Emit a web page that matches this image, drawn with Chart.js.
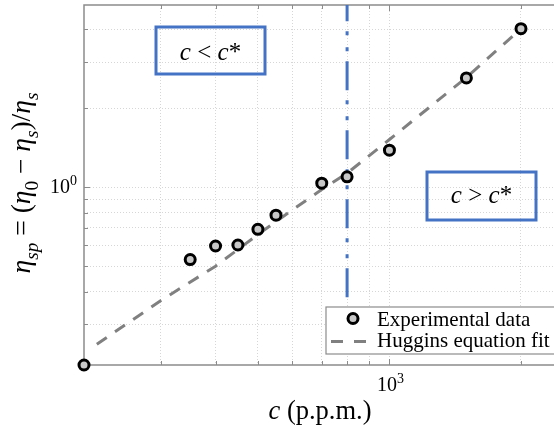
<!DOCTYPE html>
<html>
<head>
<meta charset="utf-8">
<script src="https://cdn.jsdelivr.net/npm/chart.js@4/dist/chart.umd.min.js"></script>
<style>
    html, body { margin: 0; padding: 0; background: #ffffff; }
    #wrap { width: 554px; height: 428px; }
</style>
</head>
<body>
<div id="wrap"><canvas id="chart" width="554" height="428"></canvas></div>
<script>

/* =========================
   DATA
========================= */

const concentration = [200, 350, 400, 450, 500, 550, 700, 800, 1000, 1500, 2000];
const specificViscosity = [0.21, 0.53, 0.597, 0.602, 0.691, 0.782, 1.036, 1.095, 1.384, 2.61, 4.02];

const fitConcentration = [214, 300, 400, 500, 600, 700, 800, 1000, 1500, 2000];
const fitViscosity = [0.252, 0.37, 0.50, 0.66, 0.82, 0.98, 1.13, 1.52, 2.62, 4.02];

const criticalConcentration = [800, 800];
const criticalViscosity = [0.381, 4.95];

const xGridValues = [300, 400, 500, 600, 700, 800, 900, 1000, 2000];
const yGridValues = [0.3, 0.4, 0.5, 0.6, 0.7, 0.8, 0.9, 1, 2, 3, 4];
const xTickLabels = [{ value: 1000, base: '10', exp: '3' }];
const yTickLabels = [{ value: 1, base: '10', exp: '0' }];

const legendLabels = ['Experimental data', 'Huggins equation fit'];

/* =========================
   STYLE
========================= */

const SERIF = '"Liberation Serif", "Times New Roman", serif';
const AXIS_GREY = '#8c8c8c';
const BLUE = '#4472c4';
const FIT_GREY = '#808080';

function toPoints(xs, ys) {
    return xs.map((x, i) => ({ x, y: ys[i] }));
}

// draws a run of text pieces: {t, italic, sub, sup}
function drawRich(ctx, parts, x, y, size, align) {

    const pieces = parts.map(p => {
        const s = (p.sub || p.sup) ? size * 0.7 : size;
        const font = (p.italic ? 'italic ' : '') + s + 'px ' + SERIF;
        ctx.font = font;
        return { ...p, font, w: ctx.measureText(p.t).width };
    });

    const total = pieces.reduce((a, p) => a + p.w, 0);
    let cx = align === 'center' ? x - total / 2 : (align === 'right' ? x - total : x);

    ctx.textAlign = 'left';
    ctx.textBaseline = 'alphabetic';

    pieces.forEach(p => {
        ctx.font = p.font;
        let dy = 0;
        if (p.sub) dy = size * 0.28;
        if (p.sup) dy = -size * 0.42;
        ctx.fillText(p.t, cx, y + dy);
        cx += p.w;
    });
}

function drawBox(ctx, x0, y0, x1, y1, parts, baseline) {
    ctx.save();
    ctx.strokeStyle = BLUE;
    ctx.lineWidth = 3;
    ctx.strokeRect(x0, y0, x1 - x0, y1 - y0);
    ctx.fillStyle = '#000';
    drawRich(ctx, parts, (x0 + x1) / 2, baseline, 25, 'center');
    ctx.restore();
}

/* =========================
   FRAME / TICKS PLUGIN
========================= */

const framePlugin = {

    id: 'frame',

    beforeDatasetsDraw(chart) {

        const { ctx, chartArea: a, scales } = chart;

        ctx.save();
        ctx.strokeStyle = AXIS_GREY;
        ctx.lineWidth = 1.5;

        ctx.beginPath();
        ctx.moveTo(a.right + 2, a.top);
        ctx.lineTo(a.left, a.top);
        ctx.lineTo(a.left, a.bottom);
        ctx.lineTo(a.right + 2, a.bottom);
        ctx.stroke();

        ctx.lineWidth = 1;
        ctx.beginPath();

        xGridValues.forEach(v => {
            const px = Math.round(scales.x.getPixelForValue(v)) + 0.5;
            const len = v === 1000 ? 6 : 4;
            ctx.moveTo(px, a.bottom);
            ctx.lineTo(px, a.bottom - len);
            ctx.moveTo(px, a.top);
            ctx.lineTo(px, a.top + len);
        });

        yGridValues.forEach(v => {
            const py = Math.round(scales.y.getPixelForValue(v)) + 0.5;
            const len = v === 1 ? 6 : 4;
            ctx.moveTo(a.left, py);
            ctx.lineTo(a.left + len, py);
        });

        ctx.stroke();
        ctx.restore();
    },

    afterDatasetsDraw(chart) {

        const { ctx, chartArea: a, scales } = chart;

        ctx.save();
        ctx.fillStyle = '#000';

        /* tick labels */
        xTickLabels.forEach(t => {
            const px = scales.x.getPixelForValue(t.value);
            drawRich(ctx, [{ t: t.base }, { t: t.exp, sup: true }], px + 1, a.bottom + 26, 20, 'center');
        });

        yTickLabels.forEach(t => {
            const py = scales.y.getPixelForValue(t.value);
            drawRich(ctx, [{ t: t.base }, { t: t.exp, sup: true }], a.left - 7, py + 6, 20, 'right');
        });

        /* axis titles */
        drawRich(ctx, [
            { t: 'c', italic: true },
            { t: ' (p.p.m.)' }
        ], 320, 419, 26.5, 'center');

        ctx.save();
        ctx.translate(30, 183);
        ctx.rotate(-Math.PI / 2);
        drawRich(ctx, [
            { t: 'η', italic: true },
            { t: 'sp', italic: true, sub: true },
            { t: ' = (' },
            { t: 'η', italic: true },
            { t: '0', sub: true },
            { t: ' − ' },
            { t: 'η', italic: true },
            { t: 's', italic: true, sub: true },
            { t: ')/' },
            { t: 'η', italic: true },
            { t: 's', italic: true, sub: true }
        ], 0, 0, 27.5, 'center');
        ctx.restore();

        /* regime boxes */
        drawBox(ctx, 156, 27, 265, 74, [
            { t: 'c', italic: true }, { t: ' < ' }, { t: 'c', italic: true }, { t: '*' }
        ], 60);

        drawBox(ctx, 427, 172, 536, 220, [
            { t: 'c', italic: true }, { t: ' > ' }, { t: 'c', italic: true }, { t: '*' }
        ], 203);

        /* legend */
        ctx.fillStyle = '#ffffff';
        ctx.fillRect(326, 307, a.right - 326 + 2, 47);
        ctx.strokeStyle = AXIS_GREY;
        ctx.lineWidth = 1.2;
        ctx.strokeRect(326, 307, a.right - 326 + 4, 47);

        ctx.beginPath();
        ctx.arc(353, 318.5, 5, 0, Math.PI * 2);
        ctx.fillStyle = '#c8c8c8';
        ctx.fill();
        ctx.lineWidth = 3;
        ctx.strokeStyle = '#000';
        ctx.stroke();

        ctx.beginPath();
        ctx.setLineDash([12, 11]);
        ctx.strokeStyle = FIT_GREY;
        ctx.lineWidth = 3;
        ctx.moveTo(331, 341.5);
        ctx.lineTo(367, 341.5);
        ctx.stroke();
        ctx.setLineDash([]);

        ctx.fillStyle = '#000';
        drawRich(ctx, [{ t: legendLabels[0] }], 377, 326, 21, 'left');
        drawRich(ctx, [{ t: legendLabels[1] }], 377, 347, 21, 'left');

        ctx.restore();
    }
};

/* =========================
   CHART
========================= */

const ctx = document.getElementById('chart').getContext('2d');

new Chart(ctx, {

    type: 'scatter',

    data: {
        datasets: [
            {
                label: legendLabels[0],
                data: toPoints(concentration, specificViscosity),
                pointRadius: 5,
                pointHoverRadius: 5,
                borderWidth: 3,
                backgroundColor: '#c8c8c8',
                borderColor: '#000000',
                clip: false,
                order: 0
            },
            {
                label: legendLabels[1],
                data: toPoints(fitConcentration, fitViscosity),
                showLine: true,
                borderColor: FIT_GREY,
                borderWidth: 3,
                borderDash: [12, 10],
                pointRadius: 0,
                fill: false,
                order: 1
            },
            {
                label: 'c*',
                data: toPoints(criticalConcentration, criticalViscosity),
                showLine: true,
                borderColor: BLUE,
                borderWidth: 3,
                borderDash: [29, 10, 4, 12, 4, 10],
                borderCapStyle: 'butt',
                pointRadius: 0,
                fill: false,
                order: 2
            }
        ]
    },

    options: {

        responsive: false,
        animation: false,
        devicePixelRatio: 1,

        layout: {
            autoPadding: false,
            padding: { top: 5, right: 0, bottom: 0, left: 0 }
        },

        plugins: {
            legend: { display: false },
            tooltip: { enabled: false }
        },

        scales: {

            x: {
                type: 'logarithmic',
                min: 200,
                max: 2380,
                afterFit: s => { s.height = 63; },
                afterBuildTicks: s => { s.ticks = xGridValues.map(v => ({ value: v })); },
                ticks: { display: false },
                grid: {
                    color: '#d6d6d6',
                    lineWidth: 1,
                    drawTicks: false
                },
                border: { display: false, dash: [1, 2] }
            },

            y: {
                type: 'logarithmic',
                min: 0.21,
                max: 4.95,
                afterFit: s => { s.width = 84; },
                afterBuildTicks: s => { s.ticks = yGridValues.map(v => ({ value: v })); },
                ticks: { display: false },
                grid: {
                    color: '#d6d6d6',
                    lineWidth: 1,
                    drawTicks: false
                },
                border: { display: false, dash: [1, 2] }
            }
        }
    },

    plugins: [framePlugin]
});
</script>
</body>
</html>
